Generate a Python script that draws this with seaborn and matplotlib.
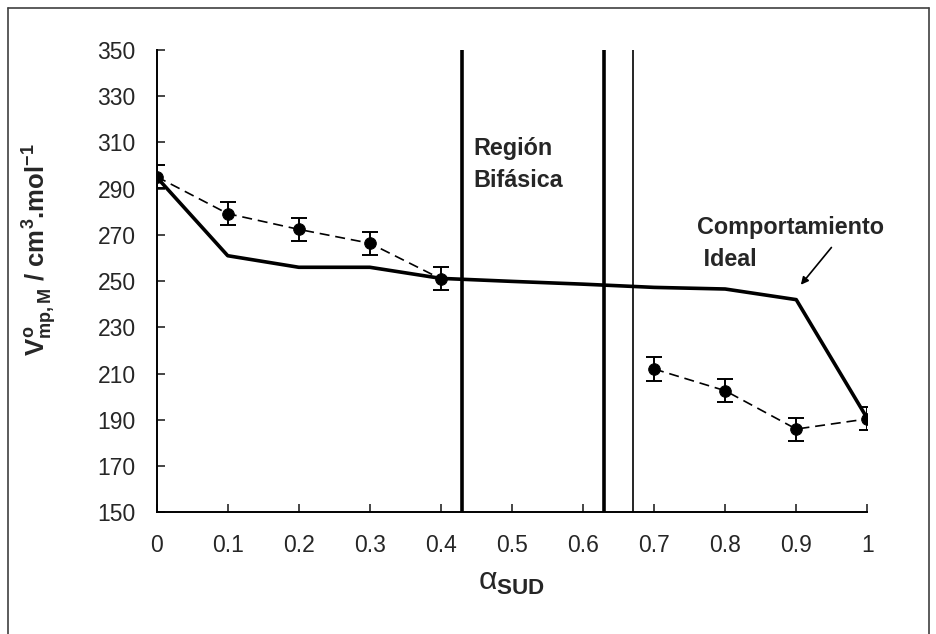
import numpy as np
import pandas as pd
import seaborn as sns
import matplotlib.pyplot as plt
from matplotlib.lines import Line2D

# composition (alpha_SUD) and partial molar volumes
alpha_ideal = [0, 0.1, 0.2, 0.3, 0.4, 0.5, 0.6, 0.7, 0.8, 0.9, 1.0]
v_ideal = [295.0, 261.0, 256.0, 256.0, 251.2, 249.9, 248.7, 247.3, 246.6, 242.0, 190.6]

alpha_exp_low = [0, 0.1, 0.2, 0.3, 0.4]
v_exp_low = [295.2, 279.2, 272.4, 266.4, 251.0]
alpha_exp_high = [0.7, 0.8, 0.9, 1.0]
v_exp_high = [212.0, 202.6, 186.0, 190.4]
v_err = 5.0

phase_limits = [0.43, 0.63]
thin_limit = 0.67

x_ticks = [0, 0.1, 0.2, 0.3, 0.4, 0.5, 0.6, 0.7, 0.8, 0.9, 1.0]
x_ticklabels = ["0", "0.1", "0.2", "0.3", "0.4", "0.5", "0.6", "0.7", "0.8", "0.9", "1"]
y_ticks = list(range(150, 351, 20))

sns.set_style("ticks")
plt.rcParams['font.family'] = ['Liberation Sans', 'DejaVu Sans']
plt.rcParams['mathtext.fontset'] = 'custom'
plt.rcParams['mathtext.rm'] = 'Liberation Sans:bold'
plt.rcParams['mathtext.bf'] = 'Liberation Sans:bold'
plt.rcParams['mathtext.it'] = 'Liberation Sans:bold'

fig = plt.figure(figsize=(9.37, 6.34), dpi=100)
ax = fig.add_axes([0.1672, 0.192, 0.7584, 0.7291])

df_ideal = pd.DataFrame({"alpha": alpha_ideal, "V": v_ideal})
df_low = pd.DataFrame({"alpha": alpha_exp_low, "V": v_exp_low})
df_high = pd.DataFrame({"alpha": alpha_exp_high, "V": v_exp_high})

# ideal behaviour
sns.lineplot(data=df_ideal, x="alpha", y="V", ax=ax, color="black", lw=2.6, zorder=3)

# experimental values, two branches either side of the biphasic region
for d in (df_low, df_high):
    sns.lineplot(data=d, x="alpha", y="V", ax=ax, color="black", lw=1.2,
                 linestyle=(0, (6, 3.5)), zorder=2)
    ax.errorbar(d["alpha"], d["V"], yerr=v_err, fmt="none", ecolor="black",
                elinewidth=1.4, capsize=5.5, capthick=1.4, zorder=4)
    sns.scatterplot(data=d, x="alpha", y="V", ax=ax, color="black", s=70,
                    edgecolor="black", zorder=5)

for xl in phase_limits:
    ax.axvline(xl, color="black", lw=2.6, zorder=1)
ax.axvline(thin_limit, color="black", lw=1.2, zorder=1)

ax.set_xlim(0, 1)
ax.set_ylim(150, 350)
ax.set_xticks(x_ticks)
ax.set_xticklabels(x_ticklabels)
ax.set_yticks(y_ticks)
ax.tick_params(axis="x", direction="in", length=6, width=1.2, pad=16, labelsize=16.5)
ax.tick_params(axis="y", direction="in", length=6, width=1.2, pad=15, labelsize=16.5)
sns.despine(ax=ax)
for s in ("left", "bottom"):
    ax.spines[s].set_linewidth(1.4)
    ax.spines[s].set_color("black")
ax.set_xlabel("")
ax.set_ylabel("")

ax.text(0.4455, 300.5, "Región\nBifásica", fontsize=16.8, fontweight="bold",
        va="center", ha="left", linespacing=1.5)
ax.text(0.761, 266.5, "Comportamiento\n Ideal", fontsize=16.8, fontweight="bold",
        va="center", ha="left", linespacing=1.5)
ax.annotate("", xy=(0.904, 247.5), xytext=(0.952, 265.5),
            arrowprops=dict(arrowstyle="-|>", color="black", lw=1.2, mutation_scale=11))

fig.text(40 / 937, 1 - 250 / 634, r"$V^o_{mp,M}$ / cm$^3$.mol$^{-1}$",
         rotation=90, ha="center", va="center", fontsize=18.5, fontweight="bold")
fig.text(512 / 937, 1 - 582 / 634, r"$\mathregular{\alpha}_{\mathbf{SUD}}$",
         ha="center", va="center", fontsize=23)

# outer frame
for xs, ys in (([8 / 937, 8 / 937], [0, 1 - 8 / 634]),
               ([8 / 937, 929 / 937], [1 - 8 / 634, 1 - 8 / 634]),
               ([929 / 937, 929 / 937], [0, 1 - 8 / 634])):
    fig.add_artist(Line2D(xs, ys, transform=fig.transFigure, color="#404040", lw=1.2))

plt.savefig("out.png", dpi=100)
